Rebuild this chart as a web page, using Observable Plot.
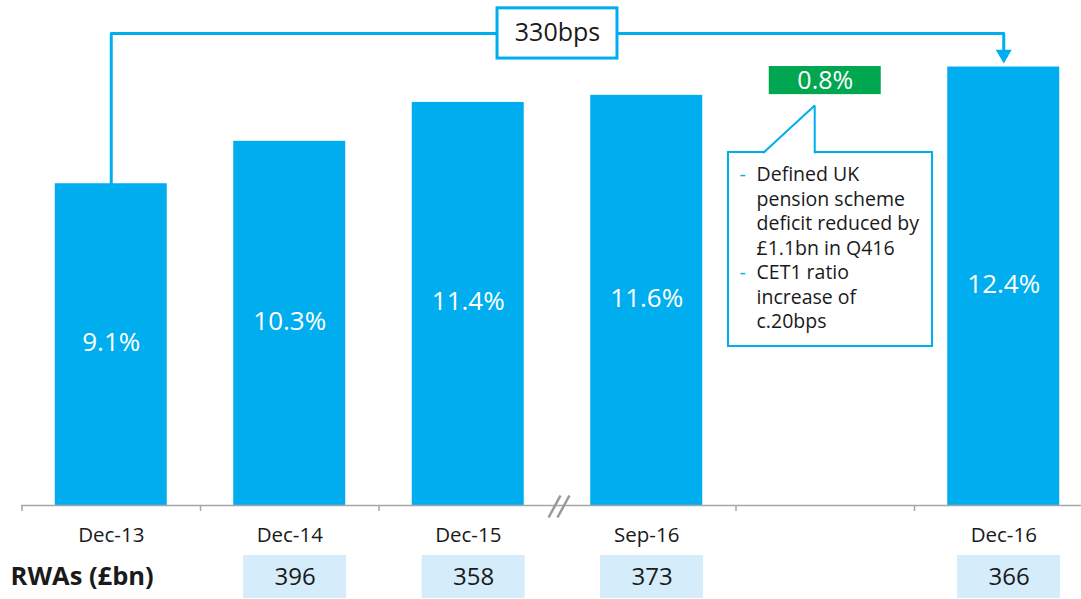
<!DOCTYPE html>
<html>
<head>
<meta charset="utf-8">
<script src="https://cdn.jsdelivr.net/npm/d3@7"></script>
<script src="https://cdn.jsdelivr.net/npm/@observablehq/plot@0.6"></script>
<style>
  html, body { margin: 0; padding: 0; background: #ffffff; }
  #chart svg { display: block; }
</style>
</head>
<body>
<div id="chart"></div>
<script>
// ---- Data ----
const slots = ["Dec-13", "Dec-14", "Dec-15", "Sep-16", "", "Dec-16"];   // x slots (one empty slot)
const cet1Periods = ["Dec-13", "Dec-14", "Dec-15", "Sep-16", "Dec-16"];
const cet1Values = [9.1, 10.3, 11.4, 11.6, 12.4];                        // CET1 ratio, %
const rwaPeriods = ["Dec-14", "Dec-15", "Sep-16", "Dec-16"];
const rwaValues = [396, 358, 373, 366];                                   // RWAs, £bn
const rwaLabel = "RWAs (£bn)";
const upliftLabel = "330bps";
const pensionLabel = "0.8%";
const bullet1 = ["Defined UK", "pension scheme", "deficit reduced by", "£1.1bn in Q416"];
const bullet2 = ["CET1 ratio", "increase of", "c.20bps"];

// ---- Styles ----
const BLUE = "#00aeef";
const GREEN = "#00a650";
const TEXT = "#1a1a1a";
const GRAY = "#a6a6a6";
const FONT = "'Open Sans', 'Noto Sans', sans-serif";
const HALF = 0.3137;   // half bar width in slot units

const pos = p => slots.indexOf(p);
const bars = cet1Periods.map((p, k) => ({i: pos(p), v: cet1Values[k]}));
const tickLabels = slots.map((s, i) => ({s, i})).filter(d => d.s);
const rwa = rwaPeriods.map((p, k) => ({i: pos(p), v: rwaValues[k]}));

const xScale = {type: "linear", domain: [-0.5, 5.5], range: [21.5, 1092.5], axis: null};

// bracket from Dec-13 to Dec-16
const bracketLevel = 13.35;
const bracket = [
  {x: pos("Dec-13"), y: cet1Values[0]},
  {x: pos("Dec-13"), y: bracketLevel},
  {x: pos("Dec-16"), y: bracketLevel},
  {x: pos("Dec-16"), y: 12.76}
];

// callout text lines
const calloutLines = [];
bullet1.forEach((t, k) => calloutLines.push({t, bullet: k === 0}));
bullet2.forEach((t, k) => calloutLines.push({t, bullet: k === 0}));
calloutLines.forEach((d, k) => { d.y = 9.35 - k * 0.6929; });

const pointerFill = [{x: 3.655, y: 9.95}, {x: 3.941, y: 11.312}, {x: 3.941, y: 9.95}];
const pointerEdge = [{x: 3.655, y: 9.983}, {x: 3.941, y: 11.312}, {x: 3.941, y: 9.983}];

const main = Plot.plot({
  width: 1081, height: 548,
  marginTop: 0, marginBottom: 43, marginLeft: 21, marginRight: 0,
  style: {fontFamily: FONT, background: "white", overflow: "visible"},
  x: xScale,
  y: {domain: [0, 14.282], axis: null},
  marks: [
    Plot.rectY(bars, {x1: d => d.i - HALF, x2: d => d.i + HALF, y: "v", fill: BLUE}),
    Plot.text(bars, {x: "i", y: d => d.v / 2, dy: -2, text: d => d.v.toFixed(1) + "%", fill: "white", fontSize: 26}),
    Plot.ruleY([0], {stroke: GRAY, strokeWidth: 1.5}),
    Plot.ruleX([-0.5, 0.5, 1.5, 3.5, 4.5], {y1: 0, y2: -0.17, stroke: GRAY, strokeWidth: 1.5}),
    Plot.link([{x1: 2.45, y1: -0.339, x2: 2.517, y2: 0.283}, {x1: 2.5, y1: -0.339, x2: 2.567, y2: 0.283}],
      {x1: "x1", y1: "y1", x2: "x2", y2: "y2", stroke: "#999999", strokeWidth: 2.5}),
    Plot.text(tickLabels, {x: "i", y: 0, dy: 30, text: "s", fontSize: 20.5, fill: TEXT}),
    // bracket + arrow
    Plot.line(bracket, {x: "x", y: "y", stroke: BLUE, strokeWidth: 3, strokeLinejoin: "round"}),
    Plot.dot([{x: pos("Dec-16"), y: 12.76}], {x: "x", y: "y", symbol: "triangle", r: 5.94, rotate: 180, fill: BLUE, stroke: "none"}),
    Plot.rect([{x1: 2.164, x2: 2.836, y1: 12.64, y2: 14.06}], {x1: "x1", x2: "x2", y1: "y1", y2: "y2", fill: "white", stroke: BLUE, strokeWidth: 3}),
    Plot.text([{x: 2.5, y: bracketLevel, t: upliftLabel}], {x: "x", y: "y", text: "t", fontSize: 25, fill: TEXT}),
    // green 0.8% box
    Plot.rect([{x1: 4 - HALF, x2: 4 + HALF, y1: 11.62, y2: 12.415}], {x1: "x1", x2: "x2", y1: "y1", y2: "y2", fill: GREEN}),
    Plot.text([{x: 4, y: 12.0, t: pensionLabel}], {x: "x", y: "y", text: "t", fontSize: 25, fill: "white"}),
    // callout
    Plot.rect([{x1: 3.458, x2: 4.601, y1: 4.497, y2: 9.983}], {x1: "x1", x2: "x2", y1: "y1", y2: "y2", fill: "white", stroke: BLUE, strokeWidth: 2}),
    Plot.line(pointerFill, {x: "x", y: "y", fill: "white", stroke: "none"}),
    Plot.line(pointerEdge, {x: "x", y: "y", stroke: BLUE, strokeWidth: 2, strokeLinejoin: "miter"}),
    Plot.text(calloutLines.filter(d => d.bullet), {x: 3.52, y: "y", text: () => "-", textAnchor: "start", fontSize: 19.5, fill: BLUE}),
    Plot.text(calloutLines, {x: 3.615, y: "y", text: "t", textAnchor: "start", fontSize: 19.5, fill: TEXT})
  ]
});

const rwaRow = Plot.plot({
  width: 1081, height: 51,
  marginTop: 0, marginBottom: 0, marginLeft: 0, marginRight: 0,
  style: {fontFamily: FONT, background: "white", overflow: "visible"},
  x: xScale,
  marks: [
    Plot.rect(rwa, {x1: d => d.i + 0.03 - 0.2885, x2: d => d.i + 0.03 + 0.2885, insetTop: 7, insetBottom: 1, fill: "#d5ecfb"}),
    Plot.text(rwa, {x: d => d.i + 0.03, text: "v", fontSize: 24, dy: 3, fill: TEXT}),
    Plot.text([rwaLabel], {x: () => -0.564, text: d => d, textAnchor: "start", fontSize: 25.5, fontWeight: "bold", dy: 3, fill: TEXT})
  ]
});

const el = document.getElementById("chart");
el.appendChild(main);
el.appendChild(rwaRow);
</script>
</body>
</html>
